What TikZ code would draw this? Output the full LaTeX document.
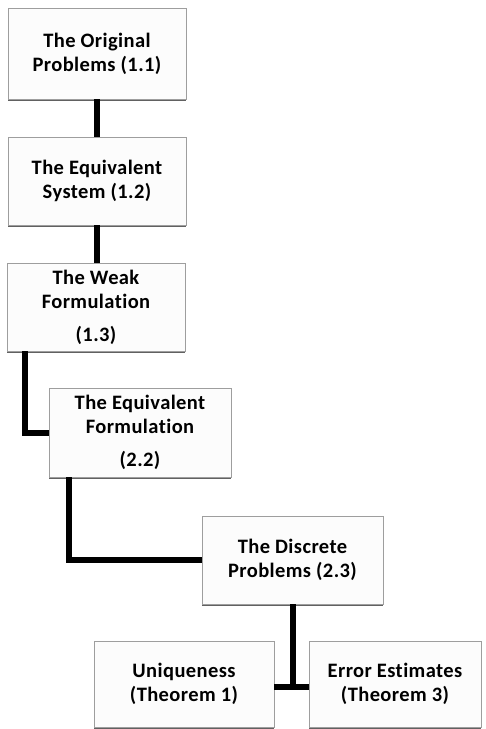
\documentclass[tikz,border=0pt]{standalone}
\usepackage{fontspec}
\setmainfont{Carlito}[Ligatures=NoCommon, LetterSpace=2]
\usetikzlibrary{shadows}
\tikzset{
  box/.style={draw=black!38, line width=0.9pt, fill=black!1, align=center,
    font=\bfseries\fontsize{20.5}{24}\selectfont, inner sep=0pt,
    drop shadow={shadow xshift=0pt, shadow yshift=-2.2pt, fill=black!62, opacity=1}},
  link/.style={line width=6pt, draw=black},
}
\begin{document}
\begin{tikzpicture}[x=1pt,y=-1pt]
\useasboundingbox (0,0) rectangle (486,729);
\node[box, minimum width=178pt, minimum height=91pt] (b1) at (97,53.5) {The Original\\Problems (1.1)};
\node[box, minimum width=178pt, minimum height=88pt] (b2) at (97,181) {The Equivalent\\System (1.2)};
\node[box, minimum width=178pt, minimum height=88pt] (b3) at (96,307) {The Weak\\Formulation\\[9pt](1.3)};
\node[box, minimum width=182pt, minimum height=89pt] (b4) at (140,432.5) {The Equivalent\\Formulation\\[9pt](2.2)};
\node[box, minimum width=181pt, minimum height=88pt] (b5) at (292.5,560) {The Discrete\\Problems (2.3)};
\node[box, minimum width=180pt, minimum height=86pt] (b6) at (184,684) {Uniqueness\\(Theorem 1)};
\node[box, minimum width=172pt, minimum height=86pt] (b7) at (395,684) {Error Estimates\\(Theorem 3)};
\draw[link] (b1.south) -- (b2.north);
\draw[link] (b2.south) -- (b2.south |- b3.north);
\draw[link] ([xshift=18pt]b3.south west) |- (b4.west);
\draw[link] ([xshift=20pt]b4.south west) |- (b5.west);
\draw[link] (b5.south) -- ([yshift=-3pt]b5.south |- b6.east) coordinate (m);
\draw[link] ([yshift=-3pt]b6.east) -- ([yshift=-3pt]b7.west);
\end{tikzpicture}
\end{document}
